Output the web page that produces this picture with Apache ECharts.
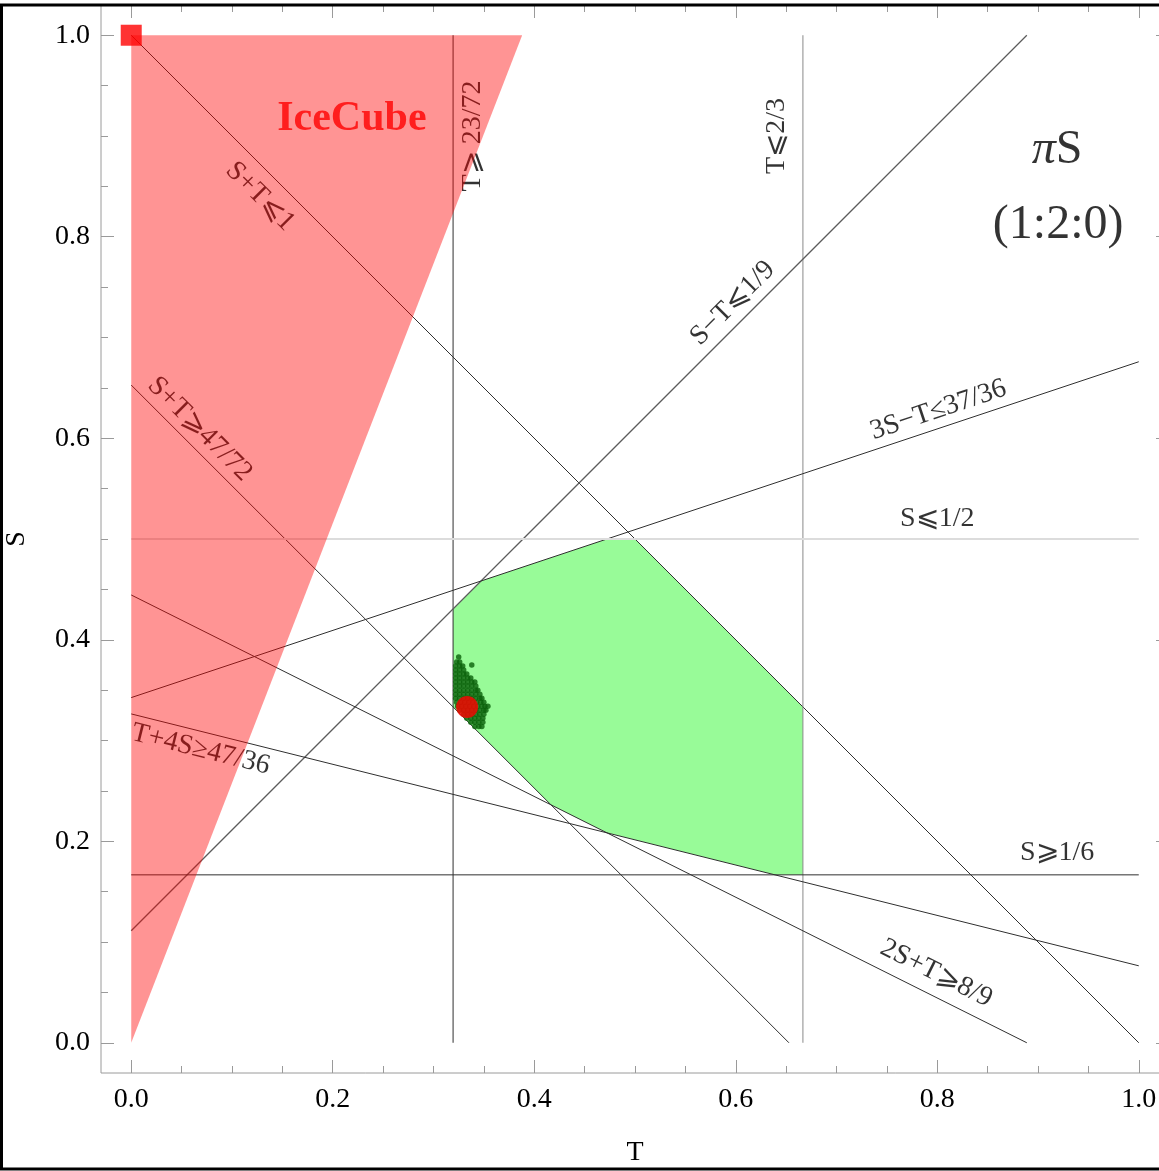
<!DOCTYPE html>
<html>
<head>
<meta charset="utf-8">
<script src="https://cdn.jsdelivr.net/npm/echarts@6/dist/echarts.min.js"></script>
<style>
  html, body { margin: 0; padding: 0; background: #fff; }
  #chart { width: 1159px; height: 1171px; }
</style>
</head>
<body>
<div id="chart"></div>
<script>
// ---- data ------------------------------------------------------------

// Frame ticks (same on both axes).
const majorTicks = [0, 0.2, 0.4, 0.6, 0.8, 1.0];
const minorTicks = [0.05, 0.1, 0.15, 0.25, 0.3, 0.35, 0.45, 0.5, 0.55,
                    0.65, 0.7, 0.75, 0.85, 0.9, 0.95];

// Constraint boundaries in the (T, S) plane, each as a segment.
const lineNames  = ['S+T=1', 'S+T=47/72', 'T=23/72', 'T=2/3', 'S−T=1/9',
                    '3S−T=37/36', 'S=1/2', 'S=1/6', 'T+4S=47/36', '2S+T=8/9'];
const lineStarts = [[0, 1], [0, 47/72], [23/72, 0], [2/3, 0], [0, 1/9],
                    [0, 37/108], [0, 1/2], [0, 1/6], [0, 47/144], [0, 4/9]];
const lineEnds   = [[1, 0], [47/72, 0], [23/72, 1], [2/3, 1], [8/9, 1],
                    [1, 73/108], [1, 1/2], [1, 1/6], [1, 11/144], [8/9, 0]];

// Text written along the boundaries.
const lineLabelTexts = ['S+T⩽1', 'S+T⩾47/72', 'T⩾ 23/72', 'T⩽2/3', 'S−T⩽1/9',
                        '3S−T≤37/36', 'S⩽1/2', 'S⩾1/6', '2S+T⩾8/9', 'T+4S≥47/36'];

// IceCube preferred region (wedge from the origin).
const iceCubeRegion = [[0, 0], [0, 1], [0.388, 1]];

// Region allowed by all constraints.
const allowedRegion = [
  [23/72, 31/72], [25/72, 33/72], [17/36, 1/2], [1/2, 1/2], [2/3, 1/3],
  [2/3, 1/6], [23/36, 1/6], [34/72, 15/72], [30/72, 17/72], [23/72, 24/72]
];

// Scan points [T, S].
const scanPoints = [
  [0.325, 0.383],
  [0.323, 0.378], [0.326, 0.378], [0.338, 0.375],
  [0.322, 0.374], [0.326, 0.374], [0.329, 0.374],
  [0.322, 0.370], [0.326, 0.370], [0.330, 0.370],
  [0.322, 0.366], [0.326, 0.366], [0.330, 0.366], [0.333, 0.366],
  [0.322, 0.362], [0.326, 0.362], [0.330, 0.362], [0.334, 0.362], [0.337, 0.362],
  [0.322, 0.358], [0.326, 0.358], [0.330, 0.358], [0.334, 0.358], [0.338, 0.358], [0.341, 0.358],
  [0.322, 0.354], [0.326, 0.354], [0.330, 0.354], [0.334, 0.354], [0.338, 0.354], [0.342, 0.354],
  [0.322, 0.350], [0.326, 0.350], [0.330, 0.350], [0.334, 0.350], [0.338, 0.350], [0.342, 0.350], [0.344, 0.350],
  [0.322, 0.346], [0.326, 0.346], [0.330, 0.346], [0.334, 0.346], [0.338, 0.346], [0.342, 0.346], [0.346, 0.346],
  [0.322, 0.342], [0.326, 0.342], [0.330, 0.342], [0.334, 0.342], [0.338, 0.342], [0.342, 0.342], [0.346, 0.342], [0.348, 0.342],
  [0.323, 0.338], [0.327, 0.338], [0.331, 0.338], [0.335, 0.338], [0.339, 0.338], [0.343, 0.338], [0.347, 0.338], [0.350, 0.338],
  [0.324, 0.334], [0.328, 0.334], [0.332, 0.334], [0.336, 0.334], [0.340, 0.334], [0.344, 0.334], [0.348, 0.334], [0.351, 0.334], [0.354, 0.334],
  [0.326, 0.330], [0.330, 0.330], [0.334, 0.330], [0.338, 0.330], [0.342, 0.330], [0.346, 0.330], [0.350, 0.330], [0.352, 0.330],
  [0.330, 0.326], [0.334, 0.326], [0.338, 0.326], [0.342, 0.326], [0.346, 0.326], [0.350, 0.326],
  [0.333, 0.322], [0.337, 0.322], [0.341, 0.322], [0.345, 0.322], [0.349, 0.322],
  [0.337, 0.318], [0.341, 0.318], [0.345, 0.318], [0.349, 0.318],
  [0.341, 0.314], [0.345, 0.314], [0.348, 0.314]
];

// Best-fit (1:2:0) point and IceCube best fit.
const bestFitPoint = [1/3, 1/3];
const iceCubeBestPoint = [0, 1];

// ---- chart -----------------------------------------------------------

const SERIF = '"Liberation Serif", "DejaVu Serif", "Times New Roman", serif';
const FRAME = '#9a9a9a';
const RANGE = { min: -0.03, max: 1.03 };

// Where each boundary label sits (data coords) and its angle in degrees.
const lineLabelAnchors = [
  [0.128, 0.840], [0.068, 0.609], [0.339, 0.900], [0.641, 0.900], [0.597, 0.734],
  [0.801, 0.628], [0.800, 0.520], [0.919, 0.189], [0.799, 0.069], [0.069, 0.291]
];
const lineLabelAngles = [-45, -45, 90, 90, 45, 18.4, 0, 0, -26.6, -14];

const lineLook = {
  'T=2/3':   { color: '#8a8a8a', width: 1 },
  'S=1/2':   { color: '#dcdcdc', width: 2 },
  'S−T=1/9': { color: '#5c5c5c', width: 1.3 }
};

function polygonSeries(points, fill, z) {
  return {
    type: 'custom', xAxisIndex: 0, yAxisIndex: 0, z: z, silent: true,
    data: [[0, 0]],
    renderItem: function (params, api) {
      return {
        type: 'polygon',
        shape: { points: points.map(function (p) { return api.coord(p); }) },
        style: { fill: fill, stroke: null, lineWidth: 0 }
      };
    }
  };
}

// One frame side: ticks pointing into the plot, optional labels.
function frameAxis(gridIndex, position, ticks, tickLength, labelMargin, extra) {
  return Object.assign({
    gridIndex: gridIndex, type: 'value', min: RANGE.min, max: RANGE.max, position: position,
    axisLine: { show: false, onZero: false },
    axisTick: { show: true, inside: true, length: tickLength, customValues: ticks,
                lineStyle: { color: FRAME, width: 1 } },
    axisLabel: labelMargin == null ? { show: false } : {
      show: true, customValues: ticks, margin: labelMargin,
      color: '#000', fontFamily: SERIF, fontSize: 28,
      formatter: function (v) { return v.toFixed(1); }
    },
    minorTick: { show: false },
    splitLine: { show: false },
    minorSplitLine: { show: false }
  }, extra || {});
}

const nameStyle = { color: '#000', fontFamily: SERIF, fontSize: 28 };

const lineSeries = lineNames.map(function (name, i) {
  const look = lineLook[name] || { color: '#303030', width: 1 };
  return {
    type: 'line', name: name, xAxisIndex: 0, yAxisIndex: 0, z: 2,
    data: [lineStarts[i], lineEnds[i]],
    symbol: 'none', silent: true, clip: false,
    lineStyle: { color: look.color, width: look.width }
  };
});

const textBase = { show: true, position: 'inside', color: '#000', fontFamily: SERIF, fontSize: 28 };

const plotBox = { left: 101, top: 5, width: 1068, height: 1068, containLabel: false, outerBoundsMode: 'none' };

const chart = echarts.init(document.getElementById('chart'), null, { renderer: 'canvas' });
chart.setOption({
  animation: false,
  backgroundColor: '#fff',
  grid: [
    Object.assign({ show: true, borderColor: FRAME, borderWidth: 1, backgroundColor: 'transparent' }, plotBox),
    Object.assign({}, plotBox)
  ],
  xAxis: [
    frameAxis(0, 'bottom', majorTicks, 13, 13, {
      name: 'T', nameLocation: 'middle', nameGap: 66, nameMoveOverlap: false, nameTextStyle: nameStyle }),
    frameAxis(0, 'top', majorTicks, 13, null),
    frameAxis(1, 'bottom', minorTicks, 7, null),
    frameAxis(1, 'top', minorTicks, 7, null)
  ],
  yAxis: [
    frameAxis(0, 'left', majorTicks, 13, 11, {
      name: 'S', nameLocation: 'middle', nameGap: 70, nameRotate: 90, nameMoveOverlap: false,
      nameTextStyle: nameStyle }),
    frameAxis(0, 'right', majorTicks, 13, null),
    frameAxis(1, 'left', minorTicks, 7, null),
    frameAxis(1, 'right', minorTicks, 7, null)
  ],
  graphic: [{
    type: 'rect', z: 100, silent: true,
    shape: { x: 1.5, y: 5, width: 1200, height: 1164 },
    style: { fill: null, stroke: '#000', lineWidth: 3 }
  }],
  series: [
    polygonSeries(allowedRegion, '#98fb98', 1)
  ].concat(lineSeries).concat([
    {
      type: 'scatter', name: 'boundary labels', xAxisIndex: 0, yAxisIndex: 0, z: 2, silent: true,
      symbolSize: 1, itemStyle: { color: 'rgba(0,0,0,0)' },
      label: textBase,
      data: lineLabelTexts.map(function (t, i) {
        return { value: lineLabelAnchors[i], label: { formatter: t, rotate: lineLabelAngles[i] } };
      })
    },
    {
      type: 'scatter', name: 'scan', xAxisIndex: 0, yAxisIndex: 0, z: 3, silent: true,
      symbol: 'circle', symbolSize: 5.5, itemStyle: { color: '#0a600a' },
      data: scanPoints
    },
    {
      type: 'scatter', name: 'best fit', xAxisIndex: 0, yAxisIndex: 0, z: 4, silent: true,
      symbol: 'circle', symbolSize: 22, itemStyle: { color: '#ff0000' },
      data: [bestFitPoint]
    },
    polygonSeries(iceCubeRegion, 'rgba(255,0,0,0.42)', 5),
    {
      type: 'scatter', name: 'IceCube best fit', xAxisIndex: 0, yAxisIndex: 0, z: 6, silent: true,
      symbol: 'rect', symbolSize: 21, itemStyle: { color: '#ff0000' }, clip: false,
      data: [iceCubeBestPoint]
    },
    {
      type: 'scatter', name: 'titles', xAxisIndex: 0, yAxisIndex: 0, z: 7, silent: true,
      symbolSize: 1, itemStyle: { color: 'rgba(0,0,0,0)' },
      label: textBase,
      data: [
        { value: [0.219, 0.917], label: { formatter: 'IceCube', color: '#ff0000', fontWeight: 'bold', fontSize: 42 } },
        { value: [0.919, 0.886], label: { formatter: '{i|π}S', fontSize: 48,
            rich: { i: { fontStyle: 'italic', fontSize: 48, fontFamily: SERIF, color: '#000' } } } },
        { value: [0.920, 0.8115], label: { formatter: '(1:2:0)', fontSize: 48 } }
      ]
    }
  ])
});
</script>
</body>
</html>
